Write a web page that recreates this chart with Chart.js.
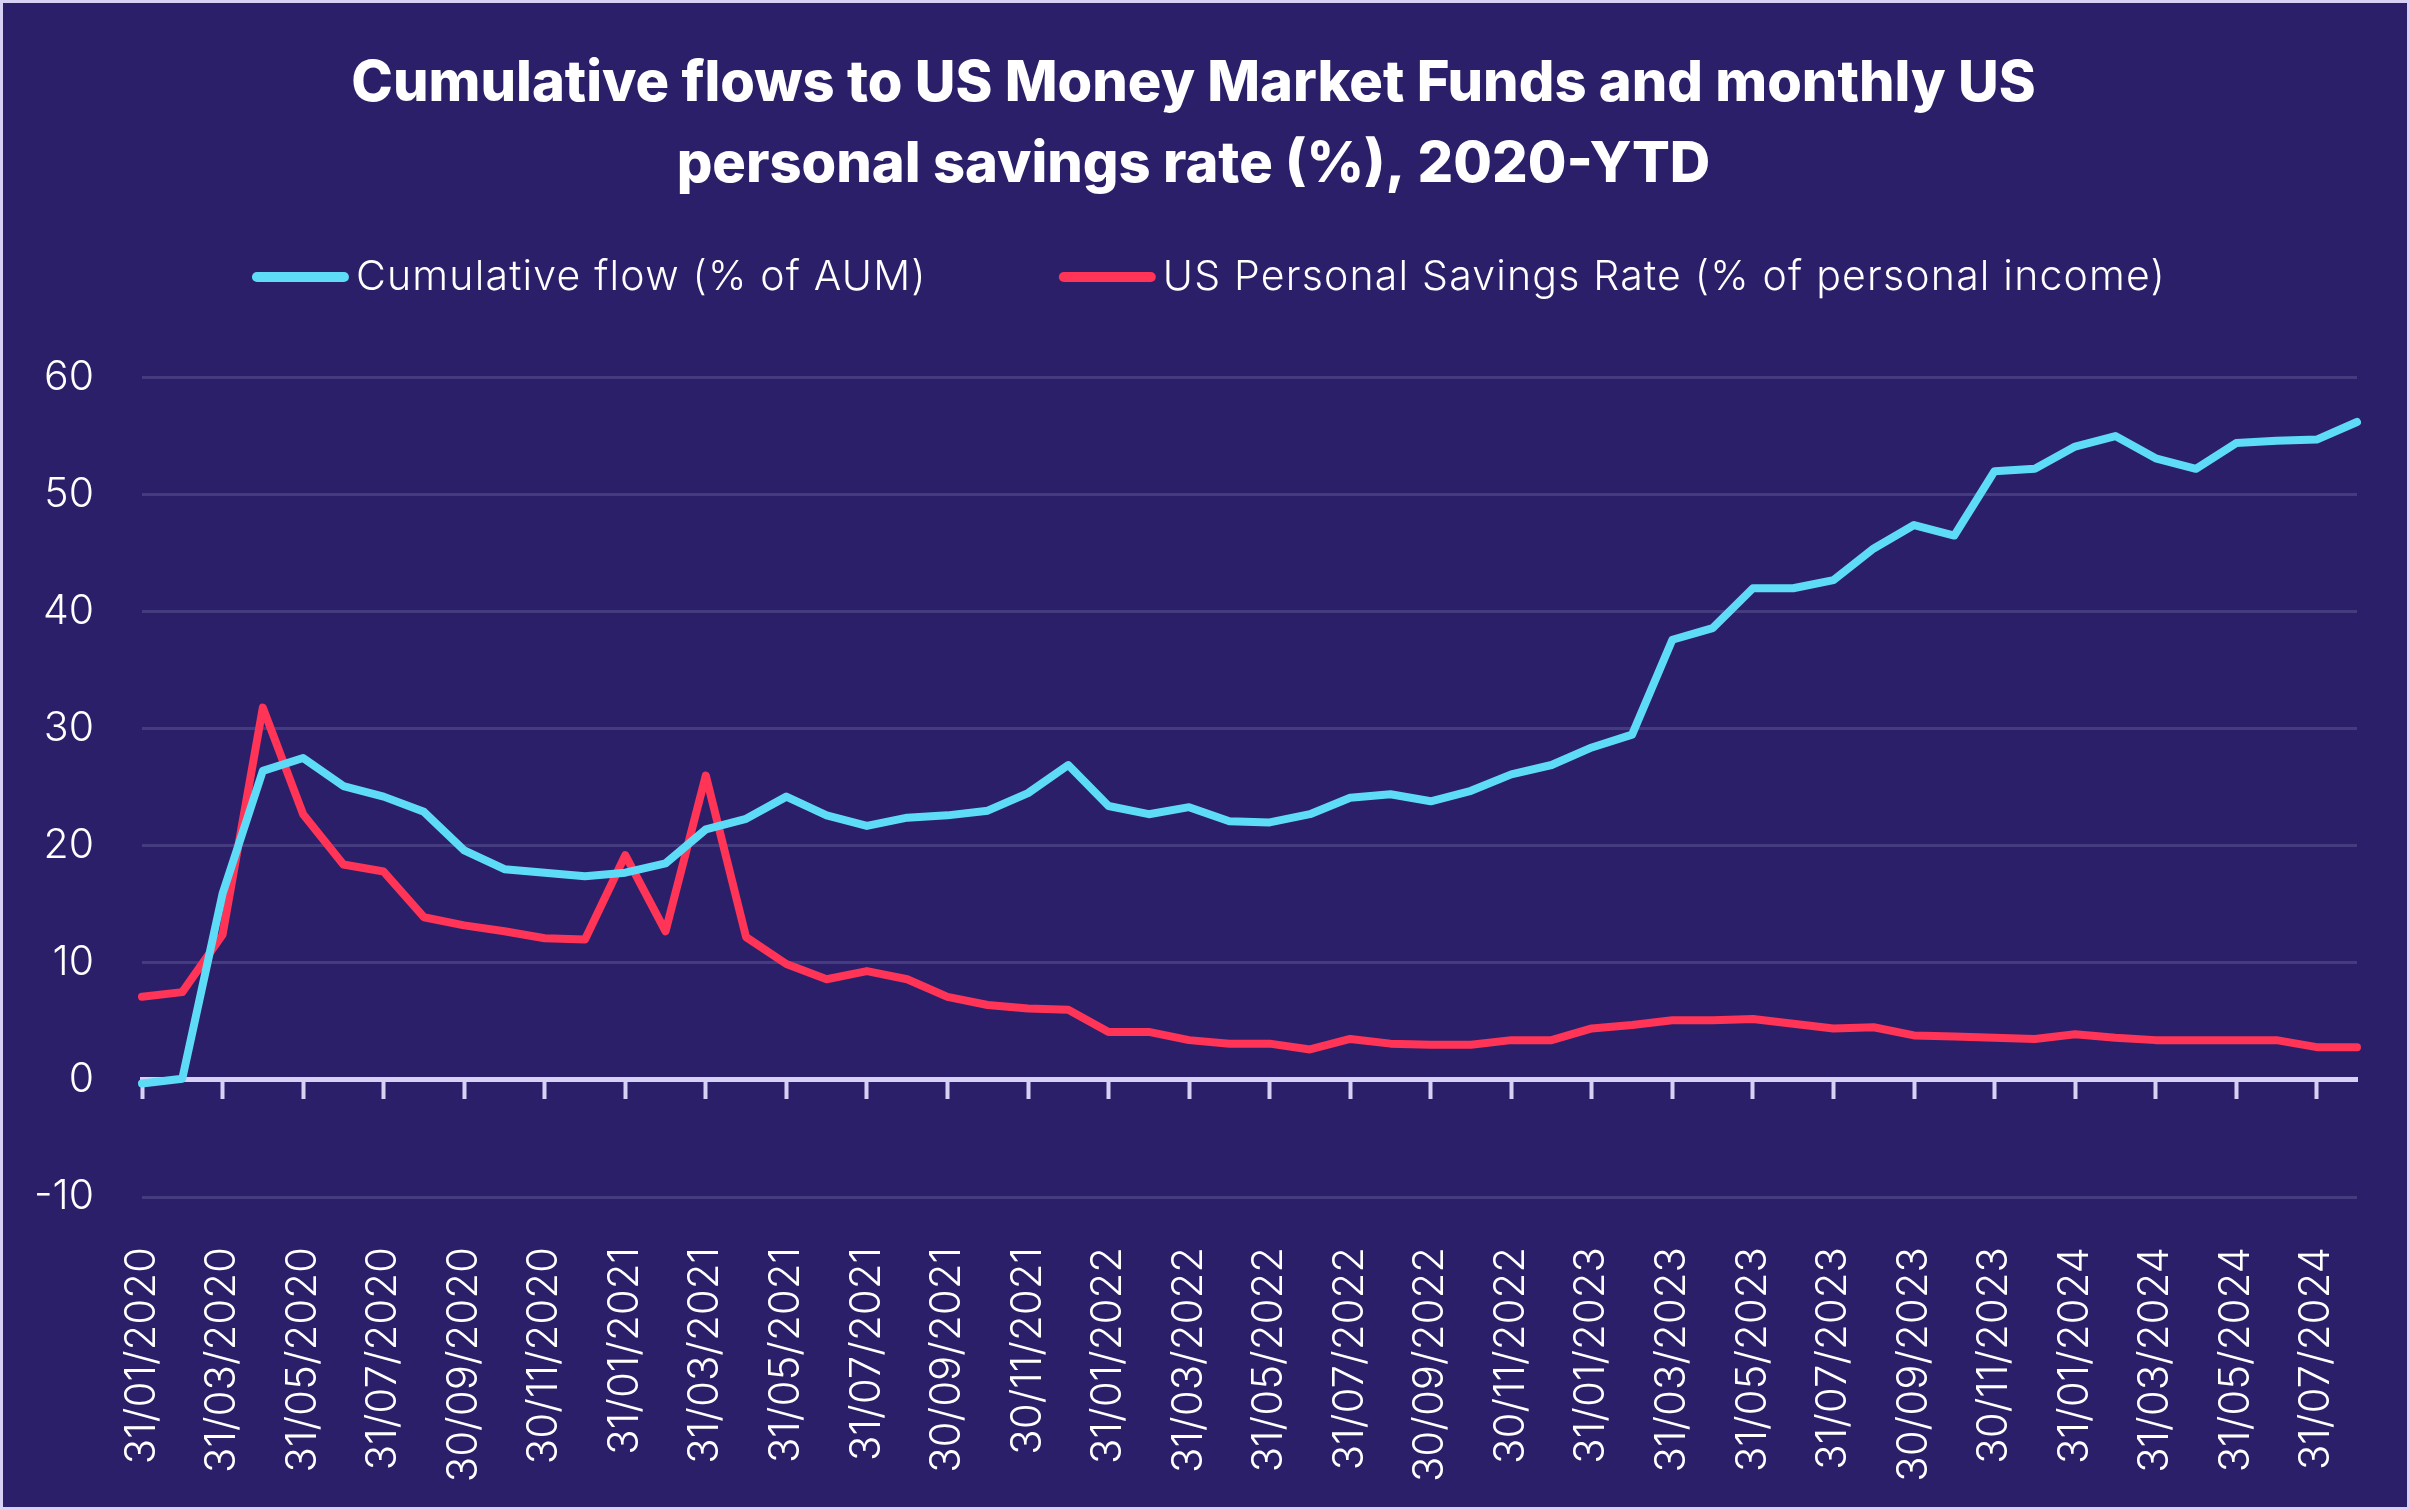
<!DOCTYPE html>
<html>
<head>
<meta charset="utf-8">
<script src="https://cdn.jsdelivr.net/npm/chart.js@4.4.1/dist/chart.umd.min.js"></script>
<style>
  html, body { margin: 0; padding: 0; background: #d8d0f5; }
  #wrap { position: absolute; left: 0; top: 0; width: 2410px; height: 1510px; background: #2c1f6a; }
  #frame { position: absolute; left: 0; top: 0; width: 2410px; height: 1510px; box-sizing: border-box; border: 3px solid #d8d0f5; pointer-events: none; }
  canvas { display: block; }
</style>
</head>
<body>
<div id="wrap"><canvas id="c" width="2410" height="1510"></canvas></div>
<div id="frame"></div>
<script>
const categories = [
  "31/01/2020","29/02/2020","31/03/2020","30/04/2020","31/05/2020","30/06/2020","31/07/2020","31/08/2020","30/09/2020","31/10/2020","30/11/2020","31/12/2020",
  "31/01/2021","28/02/2021","31/03/2021","30/04/2021","31/05/2021","30/06/2021","31/07/2021","31/08/2021","30/09/2021","31/10/2021","30/11/2021","31/12/2021",
  "31/01/2022","28/02/2022","31/03/2022","30/04/2022","31/05/2022","30/06/2022","31/07/2022","31/08/2022","30/09/2022","31/10/2022","30/11/2022","31/12/2022",
  "31/01/2023","28/02/2023","31/03/2023","30/04/2023","31/05/2023","30/06/2023","31/07/2023","31/08/2023","30/09/2023","31/10/2023","30/11/2023","31/12/2023",
  "31/01/2024","29/02/2024","31/03/2024","30/04/2024","31/05/2024","30/06/2024","31/07/2024","31/08/2024"
];
const cumulativeFlow = [
  -0.3, 0.1, 15.9, 26.4, 27.5, 25.1, 24.2, 22.9, 19.6, 18.0, 17.7, 17.4,
  17.7, 18.5, 21.4, 22.3, 24.2, 22.6, 21.7, 22.4, 22.6, 23.0, 24.5, 26.9,
  23.4, 22.7, 23.3, 22.1, 22.0, 22.7, 24.1, 24.4, 23.8, 24.7, 26.1, 26.9,
  28.4, 29.5, 37.6, 38.6, 42.0, 42.0, 42.7, 45.4, 47.4, 46.5, 52.0, 52.2,
  54.1, 55.0, 53.1, 52.2, 54.4, 54.6, 54.7, 56.2
];
const savingsRate = [
  7.1, 7.5, 12.4, 31.8, 22.7, 18.4, 17.8, 13.9, 13.2, 12.7, 12.1, 12.0,
  19.2, 12.7, 26.0, 12.2, 9.9, 8.6, 9.3, 8.6, 7.1, 6.4, 6.1, 6.0,
  4.1, 4.1, 3.4, 3.1, 3.1, 2.6, 3.5, 3.1, 3.0, 3.0, 3.4, 3.4,
  4.4, 4.7, 5.1, 5.1, 5.2, 4.8, 4.4, 4.5, 3.8, 3.7, 3.6, 3.5,
  3.9, 3.6, 3.4, 3.4, 3.4, 3.4, 2.8, 2.8
];
const seriesNames = ["Cumulative flow (% of AUM)", "US Personal Savings Rate (% of personal income)"];
const titleLines = ["Cumulative flows to US Money Market Funds and monthly US", "personal savings rate (%), 2020-YTD"];
const yTicks = { min: -10, max: 60, step: 10 };

const CYAN = "#5edcf7", RED = "#ff3456", LAV = "#d8d0f5", GRID = "#453b7f";

// Legend drawn as a line swatch + text for each dataset, centred above the plot
const lineLegend = {
  id: "lineLegend",
  afterDraw(chart) {
    const ctx = chart.ctx;
    const y = 277, lineLen = 97, textGap = 7, itemGap = 132;
    ctx.save();
    ctx.font = "300 41px Inter";
    try { ctx.letterSpacing = "1.2px"; } catch (e) {}
    ctx.textBaseline = "middle";
    ctx.textAlign = "left";
    const items = chart.data.datasets.map(d => ({ text: d.label, color: d.borderColor, w: ctx.measureText(d.label).width }));
    let total = 0;
    items.forEach((it, i) => { total += lineLen + textGap + it.w + (i ? itemGap : 0); });
    let x = chart.width / 2 - total / 2 + 4;
    items.forEach((it, i) => {
      if (i) x += itemGap;
      ctx.strokeStyle = it.color; ctx.lineWidth = 10; ctx.lineCap = "round";
      ctx.beginPath(); ctx.moveTo(x + 5, y); ctx.lineTo(x + lineLen - 5, y); ctx.stroke();
      x += lineLen + textGap;
      ctx.fillStyle = "#ffffff";
      ctx.fillText(it.text, x, y + 1);
      x += it.w;
    });
    ctx.restore();
  }
};

new Chart(document.getElementById("c"), {
  type: "line",
  data: {
    labels: categories,
    datasets: [
      { label: seriesNames[0], data: cumulativeFlow, borderColor: CYAN, backgroundColor: CYAN,
        borderWidth: 8, pointRadius: 0, tension: 0, borderCapStyle: "round", borderJoinStyle: "round", xAxisID: "x" },
      { label: seriesNames[1], data: savingsRate, borderColor: RED, backgroundColor: RED,
        borderWidth: 8, pointRadius: 0, tension: 0, borderCapStyle: "round", borderJoinStyle: "round", xAxisID: "x" }
    ]
  },
  plugins: [lineLegend],
  options: {
    responsive: false,
    animation: false,
    layout: { padding: { top: 10, left: 30, right: 53, bottom: 0 } },
    plugins: {
      tooltip: { enabled: false },
      legend: { display: false },
      title: {
        display: true, text: titleLines, color: "#ffffff",
        font: { family: "Inter", size: 56, weight: "800", lineHeight: 1.46 },
        padding: { top: 33, bottom: 171 }
      }
    },
    scales: {
      x: {
        type: "category", position: "bottom",
        grid: { display: false, drawTicks: false },
        border: { display: false },
        ticks: {
          autoSkip: false, maxRotation: 90, minRotation: 90, padding: 50, color: "#ffffff",
          font: { family: "Inter", size: 42, weight: "300" },
          callback(v, i) { return i % 2 === 0 ? categories[i] : ""; }
        },
        afterFit(s) { s.height = 313; s.paddingRight = 0; s.paddingLeft = 0; }
      },
      x2: {
        type: "category", position: { y: 0 }, labels: categories,
        grid: { drawOnChartArea: false, drawTicks: true, tickLength: 17, tickWidth: 4,
          tickColor: (ctx) => (ctx.index % 2 === 0 ? LAV : "rgba(0,0,0,0)") },
        border: { display: true, color: LAV, width: 5 },
        ticks: { display: false, autoSkip: false }
      },
      y: {
        min: yTicks.min, max: yTicks.max,
        grid: { color: (ctx) => (ctx.tick && ctx.tick.value === 0 ? "rgba(0,0,0,0)" : GRID), lineWidth: 3, drawTicks: false },
        border: { display: false },
        ticks: { stepSize: yTicks.step, padding: 48, color: "#ffffff",
          font: { family: "Inter", size: 41, weight: "300" } },
        afterFit(s) { s.width = 112; }
      }
    }
  }
});
</script>
</body>
</html>
